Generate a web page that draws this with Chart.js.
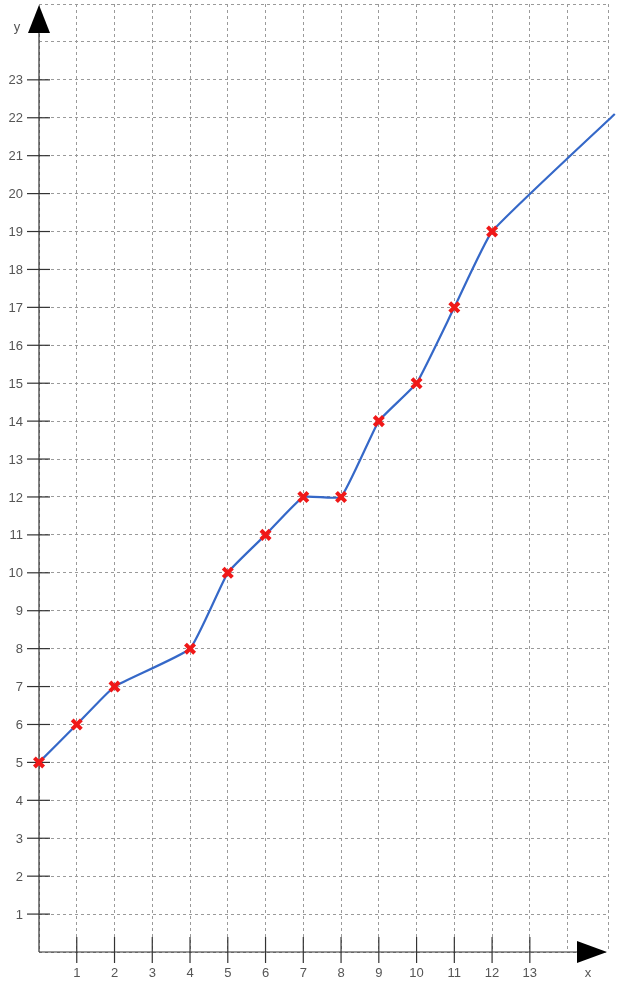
<!DOCTYPE html>
<html>
<head>
<meta charset="utf-8">
<script src="https://cdn.jsdelivr.net/npm/chart.js@4"></script>
<style>
  html, body { margin: 0; padding: 0; background: #fff; }
  #wrap { width: 620px; height: 991px; }
</style>
</head>
<body>
<div id="wrap"><canvas id="graph"></canvas></div>
<script>
// points (last one is where the line leaves the grid)
const xValues = [0, 1, 2, 4, 5, 6, 7, 8, 9, 10, 11, 12, 15.25];
const yValues = [5, 6, 7, 8, 10, 11, 12, 12, 14, 15, 17, 19, 22.1];
const marked = [1, 1, 1, 1, 1, 1, 1, 1, 1, 1, 1, 1, 0];

const xTickLabels = [1, 2, 3, 4, 5, 6, 7, 8, 9, 10, 11, 12, 13];
const yTickLabels = [1, 2, 3, 4, 5, 6, 7, 8, 9, 10, 11, 12, 13, 14, 15, 16, 17, 18, 19, 20, 21, 22, 23];

const axisColor = '#333';
const labelColor = '#555';
const labelFont = '13px "Liberation Sans", Arial, sans-serif';

// axes, ticks, arrows and tick labels drawn by hand
const axesPlugin = {
  id: 'axes',
  beforeDatasetsDraw(chart) {
    const c = chart.ctx;
    const xs = chart.scales.x, ys = chart.scales.y;
    const x0 = xs.getPixelForValue(0);
    const y0 = ys.getPixelForValue(0);
    c.save();
    c.strokeStyle = axisColor;
    c.fillStyle = '#000';
    c.lineWidth = 1.2;

    // y axis line + arrow
    c.beginPath();
    c.moveTo(x0, y0);
    c.lineTo(x0, 30);
    c.stroke();
    c.beginPath();
    c.moveTo(x0, 5);
    c.lineTo(x0 - 11, 33);
    c.lineTo(x0 + 11, 33);
    c.closePath();
    c.fill();

    // x axis line + arrow
    const xEnd = 607;
    c.beginPath();
    c.moveTo(x0, y0);
    c.lineTo(xEnd - 5, y0);
    c.stroke();
    c.beginPath();
    c.moveTo(xEnd, y0);
    c.lineTo(xEnd - 30, y0 - 11);
    c.lineTo(xEnd - 30, y0 + 11);
    c.closePath();
    c.fill();

    c.font = labelFont;
    c.fillStyle = labelColor;

    // y ticks
    c.textAlign = 'right';
    c.textBaseline = 'middle';
    yTickLabels.forEach(v => {
      const py = ys.getPixelForValue(v);
      c.beginPath();
      c.moveTo(x0 - 12, py);
      c.lineTo(x0 + 11, py);
      c.stroke();
      c.fillText(String(v), x0 - 16, py + 1);
    });

    // x ticks
    c.textAlign = 'center';
    xTickLabels.forEach(v => {
      const px = xs.getPixelForValue(v);
      c.beginPath();
      c.moveTo(px, y0 - 15);
      c.lineTo(px, y0 + 11);
      c.stroke();
      c.fillText(String(v), px, y0 + 21);
    });

    c.fillText('y', 17, 27);
    c.fillText('x', 588, 973);
    c.restore();
  }
};

const gridOpts = {
  color: '#9a9a9a',
  lineWidth: 1,
  drawTicks: false,
  tickLength: 0
};

new Chart(document.getElementById('graph'), {
  type: 'line',
  data: {
    datasets: [{
      data: xValues.map((x, i) => ({ x: x, y: yValues[i] })),
      borderColor: '#3568c8',
      borderWidth: 2.2,
      tension: 0.12,
      clip: false,
      pointStyle: 'crossRot',
      pointRadius: marked.map(m => m ? 6.5 : 0),
      pointBorderColor: '#f01818',
      pointBorderWidth: 4,
      pointHoverRadius: 0
    }]
  },
  options: {
    responsive: true,
    maintainAspectRatio: false,
    animation: false,
    events: [],
    layout: { autoPadding: false, padding: { left: 39, right: 12, top: 4, bottom: 39 } },
    plugins: { legend: { display: false }, tooltip: { enabled: false } },
    scales: {
      x: {
        type: 'linear',
        min: 0,
        max: 15.07,
        ticks: { display: false, stepSize: 1 },
        grid: gridOpts,
        border: { display: false, dash: [3, 3] }
      },
      y: {
        type: 'linear',
        min: 0,
        max: 25,
        ticks: { display: false, stepSize: 1 },
        grid: gridOpts,
        border: { display: false, dash: [3, 3] }
      }
    }
  },
  plugins: [axesPlugin]
});
</script>
</body>
</html>
